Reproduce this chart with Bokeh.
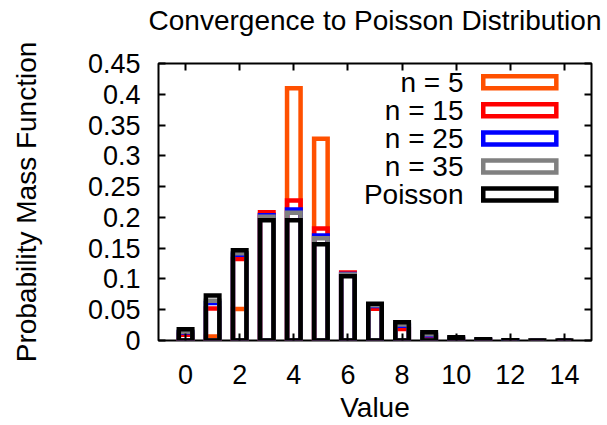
from bokeh.plotting import figure
from bokeh.models import LinearAxis, FixedTicker, Range1d, ColumnDataSource
from bokeh.core.properties import value
from bokeh.embed import file_html
from bokeh.resources import INLINE

# ---- data ----
values = list(range(0, 15))
binom_n5 = [0.0003, 0.0064, 0.0512, 0.2048, 0.4096, 0.3277, 0, 0, 0, 0, 0, 0, 0, 0, 0]
binom_n15 = [0.0095, 0.0520, 0.1323, 0.2085, 0.2275, 0.1820, 0.1103, 0.0516, 0.0188, 0.0053, 0.0012, 0.0002, 0.0000, 0.0000, 0.0000]
binom_n25 = [0.0128, 0.0609, 0.1392, 0.2033, 0.2130, 0.1704, 0.1082, 0.0559, 0.0240, 0.0086, 0.0026, 0.0007, 0.0002, 0.0000, 0.0000]
binom_n35 = [0.0143, 0.0646, 0.1417, 0.2011, 0.2076, 0.1660, 0.1071, 0.0573, 0.0259, 0.0100, 0.0034, 0.0010, 0.0003, 0.0001, 0.0000]
poisson = [0.0183, 0.0733, 0.1465, 0.1954, 0.1954, 0.1563, 0.1042, 0.0595, 0.0298, 0.0132, 0.0053, 0.0019, 0.0006, 0.0002, 0.0001]

series_labels = ["n = 5", "n = 15", "n = 25", "n = 35", "Poisson"]
series_colors = ["#ff5000", "#ff0000", "#0000ff", "#808080", "#000000"]
series_values = [binom_n5, binom_n15, binom_n25, binom_n35, poisson]

x_ticks = [0, 2, 4, 6, 8, 10, 12, 14]
y_ticks = [0, 0.05, 0.1, 0.15, 0.2, 0.25, 0.3, 0.35, 0.4, 0.45]
y_tick_labels = ["0", "0.05", "0.1", "0.15", "0.2", "0.25", "0.3", "0.35", "0.4", "0.45"]

TITLE = "Convergence to Poisson Distribution"
X_MIN, X_MAX = -1, 15
Y_MIN, Y_MAX = 0, 0.45

FONT = "Liberation Sans"
FS_TICK = "27px"
FS = "28px"
BOX_W = 0.5
LW = 4.5

W, H = 607, 425
B_LEFT, B_RIGHT, B_TOP, B_BOTTOM = 158, 16, 63, 85

p = figure(width=W, height=H, x_range=Range1d(X_MIN, X_MAX), y_range=Range1d(Y_MIN, Y_MAX),
           output_backend="svg", toolbar_location=None,
           min_border_left=B_LEFT, min_border_right=B_RIGHT,
           min_border_top=B_TOP, min_border_bottom=B_BOTTOM)
p.grid.visible = False
p.outline_line_color = "black"
p.outline_line_width = 2
p.background_fill_color = "white"
p.border_fill_color = "white"

p.title.text = TITLE
p.title.align = "center"
p.title.vertical_align = "bottom"
p.title.text_font = FONT
p.title.text_font_size = FS
p.title.text_font_style = "normal"
p.title.text_color = "black"
p.title.standoff = 0
p.title.padding = dict(top=0, right=0, bottom=28, left=0)

def style_axis(ax):
    ax.axis_line_color = None
    ax.major_tick_in = 7
    ax.major_tick_out = 0
    ax.major_tick_line_width = 2
    ax.major_tick_line_color = "black"
    ax.minor_tick_line_color = None
    ax.major_label_text_font = FONT
    ax.major_label_text_font_size = FS_TICK
    ax.major_label_text_color = "black"
    ax.axis_label_text_font = FONT
    ax.axis_label_text_font_size = FS
    ax.axis_label_text_font_style = "normal"
    ax.axis_label_text_color = "black"

xb = p.xaxis[0]
xb.ticker = FixedTicker(ticks=x_ticks)
xb.axis_label = "Value"
style_axis(xb)
xb.major_label_standoff = 24
xb.axis_label_standoff = 5

yl = p.yaxis[0]
yl.ticker = FixedTicker(ticks=y_ticks)
yl.major_label_overrides = {t: s for t, s in zip(y_ticks, y_tick_labels)}
yl.axis_label = "Probability Mass Function"
style_axis(yl)
yl.major_label_standoff = 18
yl.axis_label_standoff = 43

# mirrored ticks on top and right (no labels)
xt = LinearAxis(ticker=FixedTicker(ticks=x_ticks))
style_axis(xt)
xt.major_label_overrides = {t: "" for t in x_ticks}
xt.major_label_standoff = 0
p.add_layout(xt, "above")
yr = LinearAxis(ticker=FixedTicker(ticks=y_ticks))
style_axis(yr)
yr.major_label_overrides = {t: "" for t in y_ticks}
yr.major_label_standoff = 0
p.add_layout(yr, "right")

for vals, col in zip(series_values, series_colors):
    src = ColumnDataSource(dict(x=values, top=vals))
    p.vbar(x="x", top="top", bottom=0, width=BOX_W, source=src,
           fill_color=None, line_color=col, line_width=LW, line_join="miter")

# ---- legend (top right, text left of sample) ----
leg_text_x = 10.27
leg_box_left = 11.0
leg_box_right = 13.7
leg_y0 = 0.4195
leg_dy = 0.0456
leg_box_h = 0.0195
leg_y = [leg_y0 - i * leg_dy for i in range(len(series_labels))]
leg_src = ColumnDataSource(dict(
    label=series_labels, color=series_colors, y=leg_y,
    tx=[leg_text_x] * len(series_labels),
    bx=[(leg_box_left + leg_box_right) / 2] * len(series_labels)))
p.text(x="tx", y="y", text="label", source=leg_src, text_align="right",
       text_baseline="middle", text_font=value(FONT), text_font_size=FS, text_color="black")
p.rect(x="bx", y="y", width=leg_box_right - leg_box_left, height=leg_box_h, source=leg_src,
       fill_color=None, line_color="color", line_width=LW, line_join="miter")

open("out.html", "w").write(file_html(p, INLINE))
